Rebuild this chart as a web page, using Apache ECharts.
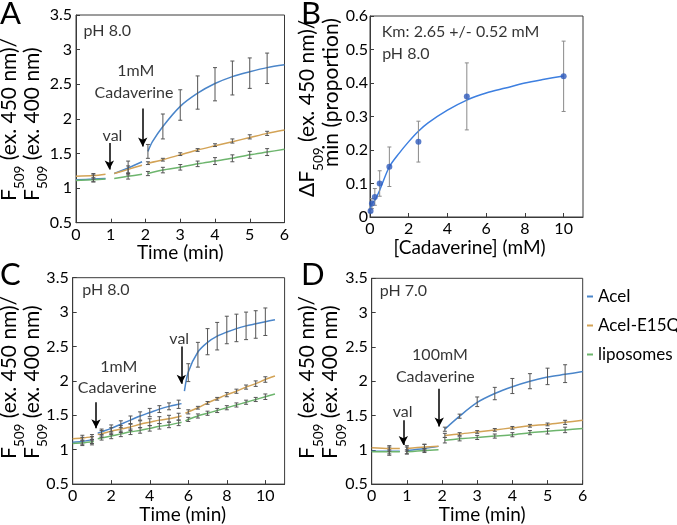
<!DOCTYPE html>
<html><head><meta charset="utf-8">
<script src="https://cdn.jsdelivr.net/npm/echarts@6/dist/echarts.min.js"></script>
<style>html,body{margin:0;padding:0;background:#fff}#c{width:677px;height:525px}</style>
</head><body><div id="c"></div>
<script>
// ---------- Panel A (pH 8.0, 1mM cadaverine) ----------
const aAceI = [[0,1.12],[0.5,1.13],[0.85,1.14],null,[1.1,1.21],[1.5,1.29],[1.9,1.38],null,[2.07,1.53],[2.2,1.67],[2.5,1.89],[3,2.18],[3.5,2.37],[4,2.51],[4.5,2.61],[5,2.68],[5.5,2.74],[6,2.78]];
const aE15Q = [[0,1.17],[0.5,1.18],[0.85,1.2],null,[1.1,1.21],[1.5,1.27],[1.9,1.33],null,[2.07,1.36],[2.5,1.41],[3,1.48],[3.5,1.55],[4,1.61],[4.5,1.67],[5,1.73],[5.5,1.79],[6,1.84]];
const aLipo = [[0,1.11],[0.5,1.12],[0.85,1.13],null,[1.1,1.14],[1.5,1.17],[1.9,1.2],null,[2.07,1.21],[2.5,1.26],[3,1.3],[3.5,1.35],[4,1.39],[4.5,1.43],[5,1.48],[5.5,1.52],[6,1.56]];
const aAceIErr = [[0.5,1.14,0.05],[1.5,1.29,0.1],[2.07,1.53,0.1],[2.5,1.89,0.18],[3,2.2,0.22],[3.5,2.38,0.24],[4,2.5,0.24],[4.5,2.59,0.245],[5,2.66,0.22],[5.5,2.73,0.22]];
const aE15QErr = [[0.5,1.17,0.04],[1.5,1.27,0.05],[2.07,1.36,0.02],[2.5,1.41,0.02],[3,1.49,0.02],[3.5,1.55,0.02],[4,1.62,0.02],[4.5,1.68,0.03],[5,1.74,0.03],[5.5,1.79,0.03]];
const aLipoErr = [[0.5,1.12,0.03],[1.5,1.17,0.04],[2.07,1.21,0.03],[2.5,1.26,0.04],[3,1.3,0.04],[3.5,1.35,0.04],[4,1.39,0.05],[4.5,1.43,0.05],[5,1.48,0.05],[5.5,1.52,0.05]];
const aNotes = [[0.9,3.27,'pH 8.0'],[1.72,2.69,'1mM'],[1.67,2.38,'Cadaverine'],[1.05,1.75,'val']];
const aArrows = [[0.96,1.65,1.27],[1.92,2.15,1.6]];

// ---------- Panel B (Km fit) ----------
const bConc = [0.03,0.1,0.25,0.5,1,2.5,5,10];
const bRate = [0.018,0.04,0.06,0.1,0.15,0.225,0.36,0.42];
const bSD   = [0.005,0.015,0.025,0.038,0.059,0.061,0.1,0.105];
const bFit  = [[0,0.018],[0.1,0.04],[0.25,0.05],[0.5,0.08],[1,0.15],[1.5,0.19],[2,0.225],[2.5,0.256],[3,0.281],[4,0.319],[5,0.349],[6,0.37],[7,0.385],[8,0.4],[9,0.411],[10,0.421]];
const bNotes = [[4.68,0.5535,'Km: 2.65 +/- 0.52 mM'],[1.85,0.487,'pH 8.0']];

// ---------- Panel C (pH 8.0, cadaverine then val) ----------
const cAceI = [[0,1.11],[0.5,1.12],[1.1,1.15],null,[1.3,1.24],[1.5,1.26],[2,1.31],[2.5,1.37],[3,1.43],[3.5,1.49],[4,1.54],[4.5,1.59],[5,1.63],[5.5,1.66],[5.65,1.67],null,[5.8,1.85],[6,2.13],[6.5,2.42],[7,2.56],[7.5,2.65],[8,2.71],[8.5,2.76],[9,2.8],[9.5,2.83],[10,2.86],[10.5,2.89]];
const cE15Q = [[0,1.16],[0.5,1.17],[1.1,1.19],null,[1.3,1.22],[1.5,1.23],[2,1.27],[2.5,1.3],[3,1.33],[3.5,1.37],[4,1.4],[4.5,1.43],[5,1.45],[5.5,1.48],[5.65,1.49],null,[5.85,1.53],[6,1.55],[6.5,1.61],[7,1.68],[7.5,1.74],[8,1.8],[8.5,1.85],[9,1.91],[9.5,1.96],[10,2.02],[10.5,2.07]];
const cLipo = [[0,1.09],[0.5,1.1],[1.1,1.12],null,[1.3,1.16],[1.5,1.17],[2,1.2],[2.5,1.23],[3,1.26],[3.5,1.28],[4,1.31],[4.5,1.34],[5,1.36],[5.5,1.39],[5.65,1.4],null,[5.85,1.42],[6,1.44],[6.5,1.49],[7,1.53],[7.5,1.57],[8,1.61],[8.5,1.65],[9,1.69],[9.5,1.73],[10,1.77],[10.5,1.81]];
const cAceIErr = [[0.5,1.13,0.05],[1,1.14,0.05],[1.5,1.26,0.04],[2,1.31,0.05],[2.5,1.37,0.05],[3,1.43,0.06],[3.5,1.49,0.06],[4,1.54,0.06],[4.5,1.59,0.05],[5,1.63,0.05],[5.5,1.66,0.06],[6,2.12,0.13],[6.5,2.38,0.18],[7,2.57,0.19],[7.5,2.65,0.2],[8,2.74,0.2],[8.5,2.77,0.2],[9,2.8,0.2],[9.5,2.82,0.2],[10,2.86,0.2]];
const cE15QErr = [[0.5,1.17,0.04],[1,1.18,0.04],[1.5,1.23,0.05],[2,1.27,0.05],[2.5,1.3,0.05],[3,1.33,0.05],[3.5,1.37,0.05],[4,1.4,0.05],[4.5,1.43,0.05],[5,1.45,0.05],[5.5,1.48,0.05],[6,1.55,0.03],[6.5,1.61,0.02],[7,1.68,0.02],[7.5,1.74,0.02],[8,1.8,0.03],[8.5,1.85,0.03],[9,1.91,0.03],[9.5,1.96,0.04],[10,2.02,0.04]];
const cLipoErr = [[0.5,1.1,0.04],[1,1.11,0.04],[1.5,1.17,0.03],[2,1.2,0.04],[2.5,1.23,0.04],[3,1.26,0.04],[3.5,1.28,0.04],[4,1.31,0.04],[4.5,1.34,0.04],[5,1.36,0.04],[5.5,1.39,0.04],[6,1.44,0.03],[6.5,1.49,0.03],[7,1.53,0.03],[7.5,1.57,0.03],[8,1.61,0.03],[8.5,1.65,0.03],[9,1.69,0.03],[9.5,1.73,0.03],[10,1.77,0.04]];
const cNotes = [[1.72,3.33,'pH 8.0'],[2.39,2.21,'1mM'],[2.31,1.9,'Cadaverine'],[5.53,2.61,'val']];
const cArrows = [[1.21,1.69,1.31],[5.64,2.5,1.96]];

// ---------- Panel D (pH 7.0, 100mM cadaverine) ----------
const dAceI = [[0,0.98],[0.5,0.98],[0.8,0.98],null,[1,0.99],[1.5,1.02],[1.9,1.05],null,[2.08,1.3],[2.5,1.49],[3,1.69],[3.5,1.82],[4,1.92],[4.5,2],[5,2.06],[5.5,2.1],[6,2.14]];
const dE15Q = [[0,1.03],[0.5,1.02],[0.8,1.02],null,[1,1.02],[1.5,1.04],[1.9,1.05],null,[2.08,1.21],[2.5,1.23],[3,1.26],[3.5,1.29],[4,1.32],[4.5,1.35],[5,1.37],[5.5,1.4],[6,1.43]];
const dLipo = [[0,0.97],[0.5,0.97],[0.8,0.97],null,[1,0.97],[1.5,0.99],[1.9,1],null,[2.08,1.14],[2.5,1.16],[3,1.18],[3.5,1.2],[4,1.22],[4.5,1.25],[5,1.27],[5.5,1.29],[6,1.31]];
const dAceIErr = [[0.5,0.98,0.06],[1,0.99,0.05],[1.5,1.03,0.05],[2.08,1.3,0.03],[2.5,1.49,0.03],[3,1.7,0.07],[3.5,1.82,0.09],[4,1.93,0.11],[4.5,2,0.11],[5,2.07,0.12],[5.5,2.11,0.13]];
const dE15QErr = [[0.5,1.02,0.04],[1,1.02,0.04],[1.5,1.04,0.04],[2.08,1.21,0.03],[2.5,1.23,0.02],[3,1.26,0.02],[3.5,1.29,0.02],[4,1.32,0.02],[4.5,1.35,0.02],[5,1.37,0.02],[5.5,1.4,0.03]];
const dLipoErr = [[0.5,0.97,0.03],[1,0.97,0.03],[1.5,0.99,0.03],[2.08,1.14,0.04],[2.5,1.16,0.03],[3,1.18,0.03],[3.5,1.2,0.03],[4,1.22,0.03],[4.5,1.25,0.03],[5,1.27,0.04],[5.5,1.29,0.04]];
const dNotes = [[0.9,3.32,'pH 7.0'],[1.94,2.39,'100mM'],[1.81,2.06,'Cadaverine'],[0.88,1.56,'val']];
const dArrows = [[0.9,1.43,1.07],[1.92,1.89,1.34]];

const legendNames = ['AceI','AceI-E15Q','liposomes'];

// ---------- styling ----------
const FONT = 'Lato, "Open Sans", sans-serif';
const COL = {'AceI':'#4a85c9','AceI-E15Q':'#d3a356','liposomes':'#6db56d'};
const ERRC = '#555555';
const AX = '#3a3a3a';

const chart = echarts.init(document.getElementById('c'), null, {renderer:'canvas'});

const grids = [
  {left:76, top:15, width:208.5, height:207.7},
  {left:370, top:16, width:213, height:201},
  {left:72.7, top:277.7, width:211.9, height:207.3},
  {left:371.7, top:278.3, width:211, height:206.7}
];

function xAx(i, max, interval, name, gap, pad){
  return {gridIndex:i, type:'value', min:0, max:max, interval:interval,
    name:name, nameLocation:'middle', nameGap:gap,
    nameTextStyle:{fontFamily:FONT, fontSize:19, color:'#000', padding:pad||0},
    axisLine:{show:true, lineStyle:{color:AX}}, axisTick:{inside:true, length:4, lineStyle:{color:AX}},
    axisLabel:{fontFamily:FONT, fontSize:16, color:'#000', margin:4, showMaxLabel: max % interval === 0},
    splitLine:{show:false}};
}
function yAx(i, min, max, interval, margin){
  return {gridIndex:i, type:'value', min:min, max:max, interval:interval,
    axisLine:{show:true, lineStyle:{color:AX}}, axisTick:{inside:true, length:4, lineStyle:{color:AX}},
    axisLabel:{fontFamily:FONT, fontSize:16, color:'#000', margin:margin},
    splitLine:{show:false}};
}

function toLine(arr){ return arr.map(p => p === null ? ['-','-'] : p); }

function errRender(color){
  return function(params, api){
    const x = api.value(0), m = api.value(1), e = api.value(2);
    const p1 = api.coord([x, m + e]), p2 = api.coord([x, m - e]);
    const c = 2;
    const st = {stroke:color, lineWidth:1};
    return {type:'group', children:[
      {type:'line', shape:{x1:p1[0], y1:p1[1], x2:p2[0], y2:p2[1]}, style:st},
      {type:'line', shape:{x1:p1[0]-c, y1:p1[1], x2:p1[0]+c, y2:p1[1]}, style:st},
      {type:'line', shape:{x1:p2[0]-c, y1:p2[1], x2:p2[0]+c, y2:p2[1]}, style:st}
    ]};
  };
}

const series = [];
function addLine(i, name, arr){
  series.push({type:'line', name:name, xAxisIndex:i, yAxisIndex:i, data:toLine(arr),
    showSymbol:false, symbol:'none', smooth:0.3, connectNulls:false, color:COL[name],
    lineStyle:{width:1.5, color:COL[name]}, itemStyle:{color:COL[name]}, z:3, silent:true});
}
function addErr(i, arr, color){
  series.push({type:'custom', name:'err', xAxisIndex:i, yAxisIndex:i, data:arr,
    renderItem:errRender(color || ERRC), encode:{x:0, y:[1,2]}, z:4, silent:true});
}
function addNotes(i, notes, arrows){
  series.push({type:'scatter', name:'notes', xAxisIndex:i, yAxisIndex:i, data:notes,
    symbolSize:0, silent:true, z:6,
    label:{show:true, position:'inside', formatter:p => p.data[2], fontFamily:FONT, fontSize:16, color:'#000'},
    markLine: arrows ? {silent:true, symbol:['none','arrow'], symbolSize:[7,9], animation:false,
      lineStyle:{color:'#000', width:1.5, type:'solid'}, label:{show:false},
      data: arrows.map(a => [{coord:[a[0], a[1]]}, {coord:[a[0], a[2]]}])} : undefined});
}

// A
addLine(0,'AceI',aAceI); addLine(0,'AceI-E15Q',aE15Q); addLine(0,'liposomes',aLipo);
addErr(0,aAceIErr); addErr(0,aE15QErr); addErr(0,aLipoErr);
addNotes(0,aNotes,aArrows);
// B
series.push({type:'line', name:'fit', xAxisIndex:1, yAxisIndex:1, data:bFit, showSymbol:false, symbol:'none',
  smooth:0.3, lineStyle:{width:1.5, color:'#3d7fe0'}, color:'#3d7fe0', z:3, silent:true});
addErr(1, bConc.map((c,k) => [c, bRate[k], bSD[k]]), '#8a8a8a');
series.push({type:'scatter', name:'rate', xAxisIndex:1, yAxisIndex:1, data:bConc.map((c,k) => [c, bRate[k]]),
  symbolSize:6, itemStyle:{color:'#2f5bbd'}, z:5, silent:true});
addNotes(1,bNotes,null);
// C
addLine(2,'AceI',cAceI); addLine(2,'AceI-E15Q',cE15Q); addLine(2,'liposomes',cLipo);
addErr(2,cAceIErr); addErr(2,cE15QErr); addErr(2,cLipoErr);
addNotes(2,cNotes,cArrows);
// D
addLine(3,'AceI',dAceI); addLine(3,'AceI-E15Q',dE15Q); addLine(3,'liposomes',dLipo);
addErr(3,dAceIErr); addErr(3,dE15QErr); addErr(3,dLipoErr);
addNotes(3,dNotes,dArrows);

// Y-axis titles (rotated, reading upward): main text + lowered subscript pieces
const FS = 21, SS = 13.5;
const mctx = document.createElement('canvas').getContext('2d');
function tw(t, s){ mctx.font = s + 'px ' + FONT; return mctx.measureText(t).width; }
function yTitle(x, y, pre, sub, post){
  const mk = (xx, yy, t, s) => ({type:'text', x:xx, y:yy, rotation:Math.PI/2, silent:true,
    style:{text:t, fontFamily:FONT, fontSize:s, fill:'#000', align:'left', verticalAlign:'bottom'}});
  const els = [mk(x, y, pre, FS)];
  if (sub) {
    const wPre = tw(pre, FS), wSub = tw(sub, SS);
    els.push(mk(x + 7.5, y - wPre, sub, SS));
    els.push(mk(x, y - wPre - wSub, post, FS));
  }
  return els;
}
function letter(x, y, t){
  return {type:'text', x:x, y:y, silent:true,
    style:{text:t, fontFamily:FONT, fontSize:31, fill:'#000', align:'left', verticalAlign:'middle'}};
}

const gfx = [letter(0, 14, 'A'), letter(301, 14, 'B'), letter(0, 275, 'C'), letter(301, 275, 'D')]
  .concat(yTitle(19.6, 201, 'F', '509', ' (ex. 450 nm)/'))
  .concat(yTitle(42.3, 201, 'F', '509', ' (ex. 400 nm)'))
  .concat(yTitle(318, 197, 'ΔF', '509', ' (ex. 450 nm)/'))
  .concat(yTitle(342, 167, 'min (proportion)', '', ''))
  .concat(yTitle(19.6, 459, 'F', '509', ' (ex. 450 nm)/'))
  .concat(yTitle(42.3, 459, 'F', '509', ' (ex. 400 nm)'))
  .concat(yTitle(318, 459, 'F', '509', ' (ex. 450 nm)/'))
  .concat(yTitle(340.7, 459, 'F', '509', ' (ex. 400 nm)'));

chart.setOption({
  animation:false,
  backgroundColor:'#ffffff',
  grid: grids.map(g => Object.assign({show:true, borderColor:AX, borderWidth:1, backgroundColor:'transparent'}, g)),
  xAxis:[
    xAx(0, 6, 1, 'Time (min)', 15),
    xAx(1, 11, 2, '[Cadaverine] (mM)', 17, [0,14,0,0]),
    xAx(2, 11, 2, 'Time (min)', 13, [0,0,0,8]),
    xAx(3, 6, 1, 'Time (min)', 14, [0,0,0,10])
  ],
  yAxis:[
    yAx(0, 0.5, 3.5, 0.5, 4),
    yAx(1, 0, 0.6, 0.1, 2),
    yAx(2, 0.5, 3.5, 0.5, 4),
    yAx(3, 0.5, 3.5, 0.5, 4)
  ],
  legend:{data:legendNames, orient:'vertical', left:582, top:283, itemWidth:6, itemHeight:2, icon:'rect',
    itemGap:12, selectedMode:false, textStyle:{fontFamily:FONT, fontSize:17, color:'#000'}},
  graphic:gfx,
  series:series
});
</script></body></html>
